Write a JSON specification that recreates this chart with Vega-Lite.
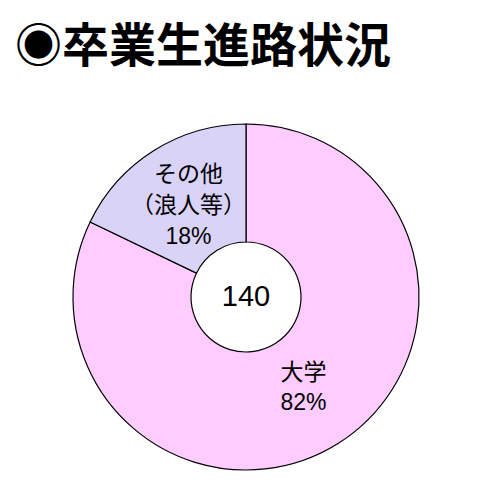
{
  "$schema": "https://vega.github.io/schema/vega-lite/v6.json",
  "description": "卒業生進路状況 donut chart",
  "autosize": "none",
  "width": 492,
  "height": 348,
  "padding": {"left": 0, "top": 123, "right": 0, "bottom": 29},
  "background": "white",
  "title": {
    "text": "◉卒業生進路状況",
    "anchor": "start",
    "frame": "group",
    "offset": 50,
    "dx": 15,
    "font": "Noto Sans CJK JP",
    "fontSize": 47,
    "fontWeight": "bold",
    "color": "black"
  },
  "data": {
    "values": [
      {"course": "大学", "label": "大学\n82%", "count": 115, "rank": 1},
      {"course": "その他", "label": "その他\n（浪人等）\n18%", "count": 25, "rank": 2}
    ]
  },
  "config": {"view": {"stroke": null}},
  "layer": [
    {
      "mark": {"type": "arc", "outerRadius": 173, "innerRadius": 55, "stroke": "black", "strokeWidth": 1.2},
      "encoding": {
        "theta": {"field": "count", "type": "quantitative", "stack": true},
        "order": {"field": "rank", "type": "quantitative"},
        "color": {
          "field": "course",
          "type": "nominal",
          "scale": {"domain": ["大学", "その他"], "range": ["#FFCCFF", "#D9D3F7"]},
          "legend": null
        }
      }
    },
    {
      "mark": {"type": "text", "radius": 108, "dy": -15, "font": "Liberation Sans, Noto Sans CJK JP", "fontSize": 23, "lineBreak": "\n", "lineHeight": 30, "color": "black", "align": "center", "baseline": "middle"},
      "encoding": {
        "theta": {"field": "count", "type": "quantitative", "stack": true},
        "order": {"field": "rank", "type": "quantitative"},
        "text": {"condition": {"test": "datum.course == '大学'", "field": "label"}, "value": ""}
      }
    },
    {
      "mark": {"type": "text", "radius": 108, "dy": -31, "font": "Liberation Sans, Noto Sans CJK JP", "fontSize": 23, "lineBreak": "\n", "lineHeight": 31, "color": "black", "align": "center", "baseline": "middle"},
      "encoding": {
        "theta": {"field": "count", "type": "quantitative", "stack": true},
        "order": {"field": "rank", "type": "quantitative"},
        "text": {"condition": {"test": "datum.course == 'その他'", "field": "label"}, "value": ""}
      }
    },
    {
      "transform": [{"aggregate": [{"op": "sum", "field": "count", "as": "total"}]}],
      "mark": {"type": "text", "font": "Liberation Sans, Noto Sans CJK JP", "fontSize": 29, "color": "black", "align": "center", "baseline": "middle"},
      "encoding": {
        "text": {"field": "total", "type": "quantitative"}
      }
    }
  ]
}
